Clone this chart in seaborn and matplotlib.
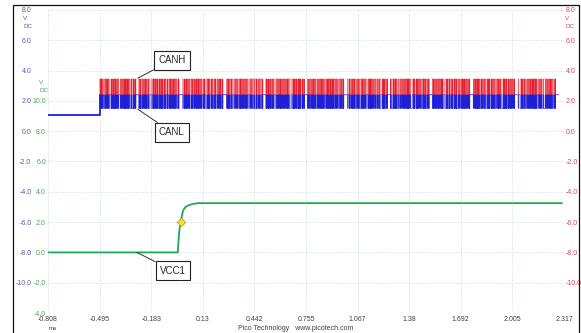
import matplotlib
matplotlib.use("Agg")
import matplotlib.pyplot as plt
import seaborn as sns
import pandas as pd
from matplotlib.patches import Rectangle

# ---- time axis (ms) ----
x_ticks = [-0.808, -0.495, -0.183, 0.13, 0.442, 0.755, 1.067, 1.38, 1.692, 2.005, 2.317]
x_labels = ["-0.808", "-0.495", "-0.183", "0.13", "0.442", "0.755",
            "1.067", "1.38", "1.692", "2.005", "2.317"]

# ---- voltage scales ----
can_y_ticks = [-12, -10, -8, -6, -4, -2, 0, 2, 4, 6, 8]
can_y_labels = ["", "-10.0", "-8.0", "-6.0", "-4.0", "-2.0", "0.0", "2.0", "4.0", "6.0", "8.0"]
vcc_y_ticks = [-4, -2, 0, 2, 4, 6, 8, 10, 12, 14, 16]
vcc_y_labels = ["-4.0", "-2.0", "0.0", "2.0", "4.0", "6.0", "8.0", "10.0", "", "", ""]

# ---- CAN bus ----
bit_ms = 0.002            # 500 kbit/s
trigger_ms = -0.495
can_end_ms = 2.287
can_idle_v = 1.1
recessive_v = 2.4
canh_dominant_v = 3.45
canl_dominant_v = 1.5

frame_start_ms = [-0.495, -0.258, 0.008, 0.274, 0.510, 0.764,
                  1.005, 1.265, 1.519, 1.767, 2.039]
frame_bits_hex = [
    "2A5C96B3D4A5693CB2D5A963456BF",
    "4B26D59A3C6A5B4D29653AC95B4A66BF",
    "35A96C4B2DA5693B5C4A9D2653B6A6BF",
    "6A4D39B25CA5964B3DA62C59A46BF",
    "2D5A693C4B6A592DA4C3956B2A5D6BF",
    "5B36A49D2CA5B3694AD5926C4A6BF",
    "3A6D259B4C6A593D2A5B64C9A3D566BF",
    "4C5A93B26DA4956C3A5D29B46A536BF",
    "2B69A4D53C6A29B5D4A36C95A4B6BF",
    "6D4A935B2C6A5D49A36B5C2A94D6536BF",
    "3C5A69D24B6A953DA5C4269B5A66BF",
]

# ---- VCC1 supply ramp ----
vcc_t = [-0.808, -0.022, -0.016, -0.010, -0.004, 0.004, 0.012, 0.025,
         0.045, 0.070, 0.100, 2.305]
vcc_v = [0.0, 0.0, 1.0, 1.7, 2.0, 2.5, 2.8, 3.0, 3.12, 3.2, 3.25, 3.25]
marker_t = [-0.004]
marker_v = [2.0]

# ---- colours ----
c_blue = "#1f1fd6"
c_red = "#e4202e"
c_green = "#1fa85a"
lbl_blue = "#5a5ab8"
lbl_green = "#4aa55a"
lbl_red = "#d8475a"
grid_c = "#bcd3d8"

# expand frames into stepped CANH / CANL series
t = [trigger_ms]
canh = [recessive_v]
canl = [recessive_v]
for start, hx in zip(frame_start_ms, frame_bits_hex):
    bits = bin(int(hx, 16))[2:].zfill(len(hx) * 4)
    for k, b in enumerate(bits):
        t.append(start + k * bit_ms)
        dom = b == "0"
        canh.append(canh_dominant_v if dom else recessive_v)
        canl.append(canl_dominant_v if dom else recessive_v)
t.append(can_end_ms)
canh.append(recessive_v)
canl.append(recessive_v)
can_df = pd.DataFrame({"t": t, "CANH": canh, "CANL": canl})
idle_df = pd.DataFrame({"t": [x_ticks[0], trigger_ms, trigger_ms],
                        "v": [can_idle_v, can_idle_v, recessive_v]})
vcc_df = pd.DataFrame({"t": vcc_t, "VCC1": vcc_v})

sns.set_style("white")
plt.rcParams["font.family"] = ["Liberation Sans", "DejaVu Sans"]

W, H = 581, 333
fig = plt.figure(figsize=(W / 100, H / 100), dpi=100)
fig.patch.set_facecolor("white")

def fx(px):
    return px / W

def fy(py):
    return 1 - py / H

ax = fig.add_axes([fx(48), fy(313), (564 - 48) / W, (313 - 10) / H])

# CAN traces (CANL drawn over CANH)
sns.lineplot(data=can_df, x="t", y="CANH", ax=ax, color=c_red, lw=0.28,
             drawstyle="steps-post", estimator=None, sort=False, legend=False)
sns.lineplot(data=can_df, x="t", y="CANL", ax=ax, color=c_blue, lw=0.38,
             drawstyle="steps-post", estimator=None, sort=False, legend=False)
sns.lineplot(data=idle_df, x="t", y="v", ax=ax, color=c_blue, lw=1.3,
             estimator=None, sort=False, legend=False)
ax.set_xlim(x_ticks[0], x_ticks[-1])
ax.set_ylim(can_y_ticks[0], can_y_ticks[-1])
ax.set_xticks(x_ticks)
ax.set_xticklabels(x_labels)
ax.set_yticks(can_y_ticks)
ax.set_yticklabels(can_y_labels)
ax.set_xlabel("")
ax.set_ylabel("")
ax.tick_params(axis="x", length=0, pad=2.5, labelsize=5, labelcolor="#404040")
ax.tick_params(axis="y", length=0, pad=12, labelsize=5, labelcolor=lbl_blue)
ax.grid(True, color=grid_c, lw=0.6, linestyle=(0, (1, 2)))
for s in ax.spines.values():
    s.set_visible(False)

# VCC1 on its own scale, labelled inside the left edge
ax_g = ax.twinx()
sns.lineplot(data=vcc_df, x="t", y="VCC1", ax=ax_g, color=c_green, lw=1.3,
             estimator=None, sort=False, legend=False)
sns.scatterplot(x=marker_t, y=marker_v, ax=ax_g, marker="D", s=18,
                color="#f2e23a", edgecolor="#c99a10", linewidth=0.6, zorder=5)
ax_g.set_ylim(vcc_y_ticks[0], vcc_y_ticks[-1])
ax_g.set_yticks(vcc_y_ticks)
ax_g.set_yticklabels(vcc_y_labels)
ax_g.yaxis.set_ticks_position("left")
ax_g.set_ylabel("")
ax_g.tick_params(axis="y", length=0, pad=1.5, labelsize=5, labelcolor=lbl_green)
for s in ax_g.spines.values():
    s.set_visible(False)

# right-hand scale for CANH
ax_r = ax.twinx()
ax_r.set_ylim(can_y_ticks[0], can_y_ticks[-1])
ax_r.set_yticks(can_y_ticks)
ax_r.set_yticklabels(can_y_labels)
ax_r.tick_params(axis="y", length=0, pad=1.5, labelsize=5, labelcolor=lbl_red)
for s in ax_r.spines.values():
    s.set_visible(False)

# unit captions
for (x, y, txt, col) in [(23, 19, "V", lbl_blue), (23, 27, "DC", lbl_blue),
                         (39, 82, "V", lbl_green), (39, 90, "DC", lbl_green),
                         (565, 19, "V", lbl_red), (565, 27, "DC", lbl_red)]:
    fig.text(fx(x), fy(y), txt, color=col, fontsize=4.5, ha="left", va="center")
fig.text(fx(49), fy(328.5), "ms", color="#404040", fontsize=4.5, ha="left", va="center")
fig.text(fx(296), fy(328), "Pico Technology   www.picotech.com", color="#404040",
         fontsize=5, ha="center", va="center")

# trace callouts
box = dict(boxstyle="square,pad=0.45", fc="white", ec="#222222", lw=0.8)
arrow = dict(arrowstyle="-", color="#333333", lw=0.7, shrinkA=0, shrinkB=0)
ax.annotate("CANH", xy=(-0.264, 3.5), xytext=(-0.058, 4.69), fontsize=7,
            ha="center", va="center", bbox=box, arrowprops=arrow)
ax.annotate("CANL", xy=(-0.264, 1.45), xytext=(-0.058, -0.07), fontsize=7,
            ha="center", va="center", bbox=box, arrowprops=arrow)
ax_g.annotate("VCC1", xy=(-0.270, 0.0), xytext=(-0.052, -1.2), fontsize=7,
              ha="center", va="center", bbox=box, arrowprops=arrow)

# outer frame
fig.patches.append(Rectangle((fx(13), -0.05), fx(579) - fx(13), fy(5) + 0.05,
                             transform=fig.transFigure, fill=False,
                             ec="#111111", lw=0.9))

fig.savefig("out.png", dpi=100)
